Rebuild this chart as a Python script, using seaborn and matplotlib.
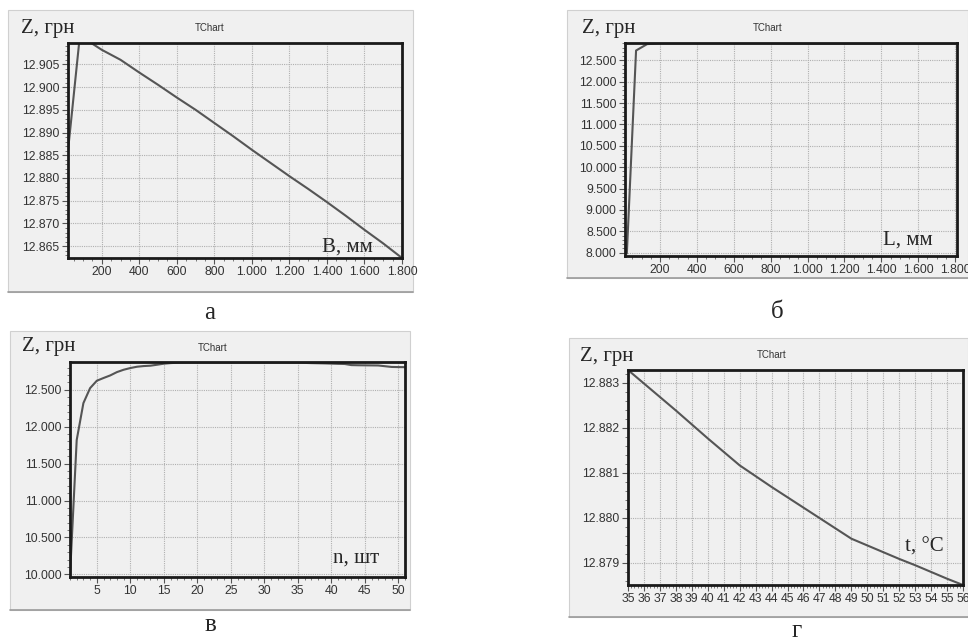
import matplotlib
matplotlib.use("Agg")
import matplotlib.pyplot as plt
import seaborn as sns
import pandas as pd
from matplotlib.patches import Rectangle
from matplotlib.ticker import MultipleLocator, FuncFormatter

# Дані, зчитані з графіків (Z, грн)
b_mm = [20, 80, 140, 200, 300, 400, 500, 600, 700, 800, 900, 1000,
        1100, 1200, 1300, 1400, 1500, 1600, 1700, 1800]
z_b = [12886, 12910, 12909.8, 12908.2, 12906.0, 12903.2, 12900.5, 12897.7,
       12895.0, 12892.1, 12889.2, 12886.2, 12883.3, 12880.4, 12877.6,
       12874.7, 12871.7, 12868.6, 12865.6, 12862.4]

l_mm = [20, 70, 130, 200, 400, 600, 800, 900, 1000, 1200, 1400, 1600, 1800]
z_l = [7980, 12730, 12880, 12898, 12900, 12900, 12898, 12890, 12890,
       12890, 12890, 12890, 12890]

n_sht = list(range(1, 52))
z_n = [9980, 11820, 12320, 12523, 12623, 12660, 12695, 12740, 12772, 12795,
       12813, 12822, 12827, 12840, 12854, 12862, 12867, 12869, 12870, 12870,
       12870, 12870, 12870, 12870, 12870, 12870, 12870, 12870, 12870, 12870,
       12869, 12869, 12869, 12868, 12868, 12865, 12862, 12860, 12858, 12855,
       12852, 12850, 12835, 12833, 12832, 12831, 12830, 12820, 12810, 12808,
       12807]

t_c = list(range(35, 57))
z_t = [12883.28, 12882.98, 12882.68, 12882.38, 12882.07, 12881.76, 12881.46,
       12881.16, 12880.92, 12880.68, 12880.45, 12880.22, 12879.99, 12879.76,
       12879.53, 12879.38, 12879.23, 12879.08, 12878.94, 12878.79, 12878.64,
       12878.50]

W, H = 968, 637
BG = "#f0f0f0"
SERIF = "Liberation Serif"
SANS = "Liberation Sans"

sns.set_theme(style="white")
plt.rcParams["font.family"] = [SANS, "DejaVu Sans"]

fig = plt.figure(figsize=(W / 100, H / 100), dpi=100)
fig.patch.set_facecolor("white")


def fx(x):
    return x / W


def fy(y):
    return 1 - y / H


def thousands(v, pos):
    return f"{int(round(v)):,}".replace(",", ".")


def panel(rect, plot, x, y, xlim, ylim, xmaj, xmin, ymaj, ymin, xlabel,
          lab_pos, z_pos, title_pos, xticks_start):
    # сіра підкладка панелі (під осями)
    x0, y0, x1, y1 = rect
    fig.patches.append(Rectangle((fx(x0), fy(y1)), fx(x1 - x0), (y1 - y0) / H,
                                 transform=fig.transFigure, facecolor=BG,
                                 edgecolor="#d0d0d0", lw=0.8, zorder=-10))
    fig.lines.append(plt.Line2D([fx(x0), fx(x1)], [fy(y1), fy(y1)],
                                transform=fig.transFigure, color="#9a9a9a",
                                lw=1.2, zorder=-9))
    px0, py0, px1, py1 = plot
    ax = fig.add_axes([fx(px0), fy(py1), fx(px1 - px0), (py1 - py0) / H])
    ax.set_facecolor(BG)
    df = pd.DataFrame({"x": x, "z": y})
    sns.lineplot(data=df, x="x", y="z", ax=ax, color="#555555", lw=1.5)
    ax.set_xlim(*xlim)
    ax.set_ylim(*ylim)
    ax.xaxis.set_major_locator(MultipleLocator(xmaj))
    ax.xaxis.set_minor_locator(MultipleLocator(xmin))
    ax.yaxis.set_major_locator(MultipleLocator(ymaj))
    ax.yaxis.set_minor_locator(MultipleLocator(ymin))
    ax.xaxis.set_major_formatter(FuncFormatter(
        lambda v, p: thousands(v, p) if v >= xticks_start - 1e-9 else ""))
    ax.yaxis.set_major_formatter(FuncFormatter(thousands))
    ax.grid(True, which="major", color="#b0b0b0", ls=(0, (1, 1)), lw=0.8)
    ax.tick_params(which="major", direction="out", length=4, width=0.8,
                   color="#555555", labelsize=8.8, pad=2, labelcolor="#333333")
    ax.tick_params(which="minor", direction="out", length=2.5, width=0.7,
                   color="#777777")
    ax.tick_params(bottom=True, left=True, which="both")
    for s in ax.spines.values():
        s.set_color("#1a1a1a")
        s.set_linewidth(2)
    ax.set_xlabel("")
    ax.set_ylabel("")
    fig.text(fx(z_pos[0]), fy(z_pos[1]), "Z, грн", family=SERIF, fontsize=15,
             ha="left", va="center")
    fig.text(fx(title_pos[0]), fy(title_pos[1]), "TChart", fontsize=7,
             ha="center", va="center", color="#333333")
    fig.text(fx(lab_pos[0]), fy(lab_pos[1]), xlabel, family=SERIF,
             fontsize=15, ha="left", va="center")
    return ax


panel((8, 10, 413, 292), (68, 43, 402, 258), b_mm, z_b, (20, 1800),
      (12862.4, 12909.7), 200, 50, 5, 1, "B, мм", (322, 247), (21, 28),
      (210, 28), 200)
panel((567, 10, 968, 278), (625, 43, 957, 256), l_mm, z_l, (10, 1810),
      (7922, 12906), 200, 50, 500, 100, "L, мм", (883, 240), (582, 28),
      (768, 28), 200)
panel((10, 331, 410, 610), (70, 362, 405, 577), n_sht, z_n, (1, 51),
      (9964, 12877), 5, 1, 500, 100, "n, шт", (333, 558), (22, 347),
      (213, 348), 5)
panel((569, 338, 968, 617), (628, 370, 963, 585), t_c, z_t, (35, 56),
      (12878.5, 12883.28), 1, 0.2, 1, 0.2, "t, °C", (905, 547), (580, 357),
      (772, 355), 35)

for ch, (cx, cy) in zip(["а", "б", "в", "г"],
                        [(210, 313), (777, 312), (210, 625), (797, 631)]):
    fig.text(fx(cx), fy(cy), ch, family=SERIF, fontsize=18, ha="center",
             va="center")

fig.savefig("out.png", dpi=100, facecolor="white")
